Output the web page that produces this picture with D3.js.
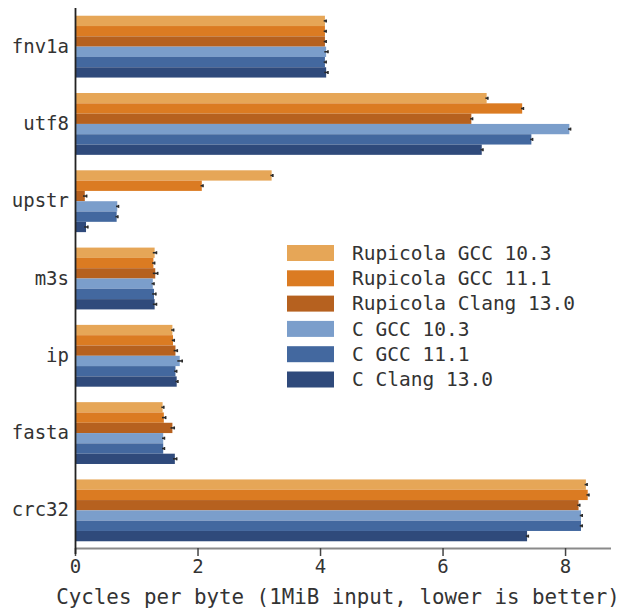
<!DOCTYPE html>
<html>
<head>
<meta charset="utf-8">
<script src="https://cdn.jsdelivr.net/npm/d3@7"></script>
<style>
  html, body { margin: 0; padding: 0; background: #fff; }
  svg text { font-family: "DejaVu Sans Mono", "Liberation Mono", monospace; fill: #333; }
</style>
</head>
<body>
<svg id="chart" width="638" height="609"></svg>
<script>
// Benchmarks (top to bottom)
const benchmarks = ["fnv1a", "utf8", "upstr", "m3s", "ip", "fasta", "crc32"];

// Compiler configurations
const configs = [
  "Rupicola GCC 10.3",
  "Rupicola GCC 11.1",
  "Rupicola Clang 13.0",
  "C GCC 10.3",
  "C GCC 11.1",
  "C Clang 13.0"
];
const colors = ["#e6a657", "#db7b22", "#b6611f", "#7b9ecb", "#43689f", "#2f4a7b"];

// Cycles per byte, one array per configuration, in benchmark order
const rupicolaGcc103 = [4.08, 6.72, 3.21, 1.30, 1.59, 1.43, 8.34];
const rupicolaGcc111 = [4.08, 7.30, 2.07, 1.28, 1.60, 1.45, 8.37];
const rupicolaClang130 = [4.08, 6.47, 0.16, 1.31, 1.64, 1.59, 8.22];
const cGcc103 = [4.10, 8.07, 0.69, 1.27, 1.71, 1.44, 8.26];
const cGcc111 = [4.08, 7.45, 0.68, 1.29, 1.64, 1.44, 8.26];
const cClang130 = [4.10, 6.64, 0.18, 1.30, 1.66, 1.63, 7.38];
const seriesValues = [rupicolaGcc103, rupicolaGcc111, rupicolaClang130, cGcc103, cGcc111, cClang130];

// Measurement spread (± cycles per byte)
const seriesErrors = [
  [0.02, 0.02, 0.02, 0.03, 0.02, 0.02, 0.02],
  [0.02, 0.02, 0.02, 0.02, 0.02, 0.03, 0.02],
  [0.02, 0.02, 0.03, 0.04, 0.03, 0.03, 0.02],
  [0.03, 0.02, 0.02, 0.02, 0.04, 0.02, 0.02],
  [0.02, 0.02, 0.02, 0.03, 0.02, 0.02, 0.02],
  [0.03, 0.02, 0.03, 0.03, 0.02, 0.03, 0.02]
];

const xTicks = [0, 2, 4, 6, 8];
const xLabel = "Cycles per byte (1MiB input, lower is better)";

const svg = d3.select("#chart");
const plotLeft = 75, plotRight = 611, plotTop = 8, plotBottom = 548;

const x = d3.scaleLinear().domain([0, 8.75]).range([plotLeft, plotRight]);
const y = d3.scaleBand().domain(benchmarks).range([plotTop, plotBottom + 1])
  .paddingInner(0.2).paddingOuter(0.1);
const ySub = d3.scaleBand().domain(d3.range(configs.length)).range([0, y.bandwidth()]);

// Flatten for drawing
const rows = [];
seriesValues.forEach((vals, s) => {
  vals.forEach((v, i) => rows.push({ b: benchmarks[i], s, v, e: seriesErrors[s][i] }));
});

// Bars
svg.append("g").selectAll("rect").data(rows).join("rect")
  .attr("x", x(0))
  .attr("y", d => y(d.b) + ySub(d.s))
  .attr("width", d => x(d.v) - x(0))
  .attr("height", ySub.bandwidth())
  .attr("fill", d => colors[d.s]);

// Error marks at the bar ends
const err = svg.append("g").attr("stroke", "#2a2a2a").attr("stroke-width", 1.6);
err.selectAll("line.h").data(rows).join("line").attr("class", "h")
  .attr("x1", d => x(d.v - d.e)).attr("x2", d => x(d.v + d.e))
  .attr("y1", d => y(d.b) + ySub(d.s) + ySub.bandwidth() / 2)
  .attr("y2", d => y(d.b) + ySub(d.s) + ySub.bandwidth() / 2);
err.selectAll("line.c").data(rows).join("line").attr("class", "c")
  .attr("x1", d => x(d.v + d.e)).attr("x2", d => x(d.v + d.e))
  .attr("y1", d => y(d.b) + ySub(d.s) + ySub.bandwidth() / 2 - 1.5)
  .attr("y2", d => y(d.b) + ySub(d.s) + ySub.bandwidth() / 2 + 1.5);

// X axis
const xAxis = svg.append("g").attr("transform", `translate(0,${plotBottom})`)
  .call(d3.axisBottom(x).tickValues(xTicks).tickSize(8).tickPadding(4).tickFormat(d3.format("d")));
xAxis.select(".domain").attr("stroke", "#8a8a8a").attr("stroke-width", 2)
  .attr("d", `M${plotLeft},0.5H${plotRight}`);
xAxis.selectAll(".tick line").attr("stroke", "#444").attr("stroke-width", 1.5);
xAxis.selectAll(".tick text").attr("font-size", 19).style("fill", "#333")
  .attr("font-family", "DejaVu Sans Mono, monospace");

// Y axis (labels only, with a dark spine)
const yAxis = svg.append("g").attr("transform", `translate(${plotLeft},0)`)
  .call(d3.axisLeft(y).tickSize(0).tickPadding(6));
yAxis.select(".domain").attr("stroke", "#222").attr("stroke-width", 1.8)
  .attr("d", `M0.5,${plotTop}V${plotBottom + 6}`);
yAxis.selectAll(".tick text").attr("font-size", 19).style("fill", "#333")
  .attr("font-family", "DejaVu Sans Mono, monospace");

// Axis title
svg.append("text")
  .attr("x", 338).attr("y", 604)
  .attr("text-anchor", "middle").attr("font-size", 20.8)
  .text(xLabel);

// Legend
const legend = svg.append("g").attr("transform", "translate(287,245)");
const item = legend.selectAll("g").data(configs).join("g")
  .attr("transform", (d, i) => `translate(0,${i * 25.3})`);
item.append("rect").attr("width", 47).attr("height", 16)
  .attr("fill", (d, i) => colors[i]);
item.append("text").attr("x", 65).attr("y", 8).attr("dy", "0.35em")
  .attr("font-size", 19.5).text(d => d);
</script>
</body>
</html>
